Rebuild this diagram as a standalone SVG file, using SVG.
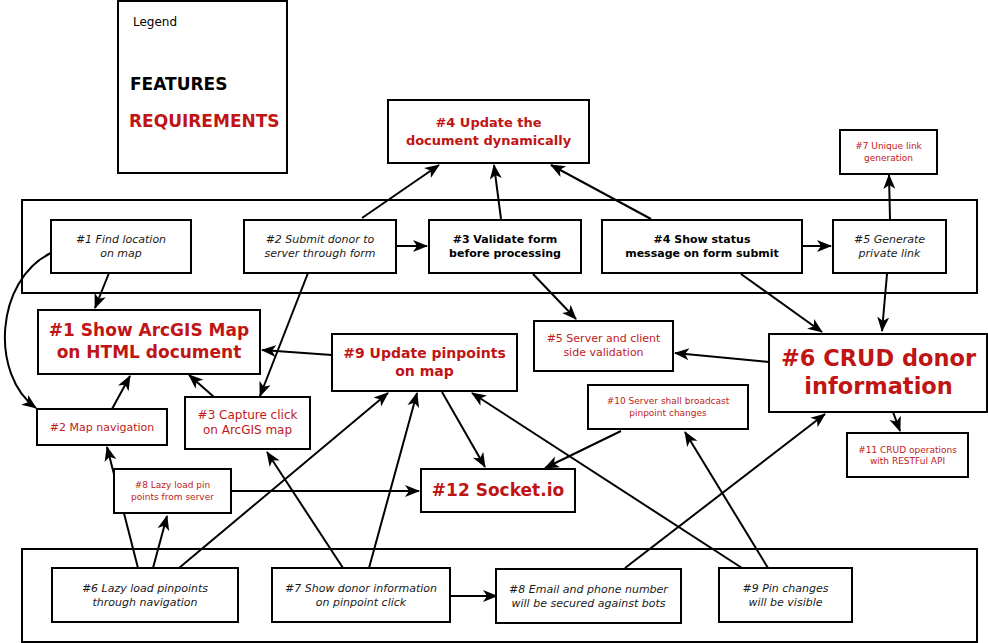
<svg xmlns="http://www.w3.org/2000/svg" width="988" height="643" viewBox="0 0 988 643">
<defs>
<marker id="ah" markerUnits="userSpaceOnUse" markerWidth="16" markerHeight="14" refX="14" refY="7" orient="auto" viewBox="0 0 16 14">
<path d="M0,1 L15,7 L0,13 L4,7 z" fill="#000"/>
</marker>
<style>
.box{fill:#fff;stroke:#000;stroke-width:2}
.grp{fill:none;stroke:#000;stroke-width:2}
text{font-family:"DejaVu Sans","Liberation Sans",sans-serif;text-anchor:middle}
.f{font-size:11px;font-style:italic;fill:#1a1a1a}
.fb{font-size:11px;font-weight:bold;fill:#000}
.r{fill:#c01a1a}
.rb{fill:#bf1515;font-weight:bold}
.c{fill:none;stroke:#000;stroke-width:2;marker-end:url(#ah)}
</style>
</defs>
<rect width="988" height="643" fill="#fff"/>
<g id="legend">
<rect class="box" x="118" y="1" width="169" height="172"/>
<text x="133" y="26" style="font-size:12px;text-anchor:start;fill:#000">Legend</text>
<text x="130" y="90" style="font-size:17px;font-weight:bold;text-anchor:start;fill:#000">FEATURES</text>
<text x="129" y="127" class="rb" style="font-size:17px;text-anchor:start">REQUIREMENTS</text>
</g>
<g id="groups">
<rect class="grp" x="22" y="200" width="955" height="93"/>
<rect class="grp" x="22" y="549" width="955" height="93"/>
</g>
<g id="connectors">
<path class="c" d="M109,273 L95,308"/>
<path class="c" d="M51,253 C-5,280 -10,375 36,408"/>
<path class="c" d="M362,218 L439,165"/>
<path class="c" d="M396,246 L427,246"/>
<path class="c" d="M308,273 L260,396"/>
<path class="c" d="M501,219 L494,165"/>
<path class="c" d="M533,274 L576,319"/>
<path class="c" d="M651,219 L551,165"/>
<path class="c" d="M802,246 L831,246"/>
<path class="c" d="M741,274 L822,332"/>
<path class="c" d="M890,219 L889,175"/>
<path class="c" d="M887,274 L882,331"/>
<path class="c" d="M769,362 L675,353"/>
<path class="c" d="M893,412 L900,431"/>
<path class="c" d="M332,355 L262,350"/>
<path class="c" d="M214,397 L189,375"/>
<path class="c" d="M112,409 L130,376"/>
<path class="c" d="M442,392 L485,467"/>
<path class="c" d="M621,431 L545,468"/>
<path class="c" d="M231,491 L419,491"/>
<path class="c" d="M138,568 L107,447"/>
<path class="c" d="M153,568 L167,516"/>
<path class="c" d="M179,568 L388,393"/>
<path class="c" d="M343,568 L267,452"/>
<path class="c" d="M369,568 L417,393"/>
<path class="c" d="M450,596 L497,596"/>
<path class="c" d="M625,568 L825,414"/>
<path class="c" d="M742,568 L472,393"/>
<path class="c" d="M768,568 L685,432"/>
</g>
<g id="F1"><rect class="box" x="51" y="220" width="140" height="53"/><text class="f" x="121" y="243">#1 Find location</text><text class="f" x="121" y="257">on map</text></g>
<g id="F2"><rect class="box" x="244" y="220" width="152" height="53"/><text class="f" x="320" y="243">#2 Submit donor to</text><text class="f" x="320" y="257">server through form</text></g>
<g id="F3"><rect class="box" x="429" y="220" width="152" height="53"/><text class="fb" x="505" y="243">#3 Validate form</text><text class="fb" x="505" y="257">before processing</text></g>
<g id="F4"><rect class="box" x="602" y="220" width="200" height="53"/><text class="fb" x="702" y="243">#4 Show status</text><text class="fb" x="702" y="257">message on form submit</text></g>
<g id="F5"><rect class="box" x="833" y="220" width="113" height="53"/><text class="f" x="889.5" y="243">#5 Generate</text><text class="f" x="889.5" y="257">private link</text></g>
<g id="R7"><rect class="box" x="840" y="130" width="97" height="44"/><text class="r" style="font-size:9px" x="888.5" y="149">#7 Unique link</text><text class="r" style="font-size:9px" x="888.5" y="161">generation</text></g>
<g id="R4"><rect class="box" x="388" y="100" width="201" height="63"/><text class="rb" style="font-size:13px" x="488.5" y="127">#4 Update the</text><text class="rb" style="font-size:13px" x="488.5" y="145">document dynamically</text></g>
<g id="R1"><rect class="box" x="38" y="310" width="222" height="64"/><text class="rb" style="font-size:17px" x="149" y="336">#1 Show ArcGIS Map</text><text class="rb" style="font-size:17px" x="149" y="358">on HTML document</text></g>
<g id="R2"><rect class="box" x="37" y="409" width="130" height="36"/><text class="r" style="font-size:11px" x="102" y="431">#2 Map navigation</text></g>
<g id="R3"><rect class="box" x="185" y="397" width="125" height="52"/><text class="r" style="font-size:12px" x="247.5" y="419">#3 Capture click</text><text class="r" style="font-size:12px" x="247.5" y="434">on ArcGIS map</text></g>
<g id="R9"><rect class="box" x="332" y="334" width="185" height="57"/><text class="rb" style="font-size:14px" x="424.5" y="358">#9 Update pinpoints</text><text class="rb" style="font-size:14px" x="424.5" y="376">on map</text></g>
<g id="R5"><rect class="box" x="534" y="321" width="139" height="50"/><text class="r" style="font-size:11px" x="603.5" y="342">#5 Server and client</text><text class="r" style="font-size:11px" x="603.5" y="356">side validation</text></g>
<g id="R6"><rect class="box" x="769" y="334" width="218" height="78"/><text class="rb" style="font-size:22.5px" x="878.5" y="366">#6 CRUD donor</text><text class="rb" style="font-size:22.5px" x="878.5" y="394">information</text></g>
<g id="R10"><rect class="box" x="588" y="385" width="160" height="44"/><text class="r" style="font-size:9px" x="668" y="404">#10 Server shall broadcast</text><text class="r" style="font-size:9px" x="668" y="416">pinpoint changes</text></g>
<g id="R11"><rect class="box" x="847" y="433" width="121" height="44"/><text class="r" style="font-size:9px" x="907.5" y="453">#11 CRUD operations</text><text class="r" style="font-size:9px" x="907.5" y="464">with RESTFul API</text></g>
<g id="R8"><rect class="box" x="114" y="469" width="117" height="44"/><text class="r" style="font-size:9px" x="172.5" y="488">#8 Lazy load pin</text><text class="r" style="font-size:9px" x="172.5" y="500">points from server</text></g>
<g id="R12"><rect class="box" x="421" y="469" width="154" height="43"/><text class="rb" style="font-size:17px" x="498" y="496">#12 Socket.io</text></g>
<g id="F6"><rect class="box" x="52" y="568" width="186" height="54"/><text class="f" x="145" y="592">#6 Lazy load pinpoints</text><text class="f" x="145" y="606">through navigation</text></g>
<g id="F7"><rect class="box" x="272" y="568" width="178" height="54"/><text class="f" x="361" y="592">#7 Show donor information</text><text class="f" x="361" y="606">on pinpoint click</text></g>
<g id="F8"><rect class="box" x="496" y="569" width="185" height="54"/><text class="f" x="588.5" y="593">#8 Email and phone number</text><text class="f" x="588.5" y="607">will be secured against bots</text></g>
<g id="F9"><rect class="box" x="719" y="568" width="133" height="54"/><text class="f" x="785.5" y="592">#9 Pin changes</text><text class="f" x="785.5" y="606">will be visible</text></g>
</svg>
